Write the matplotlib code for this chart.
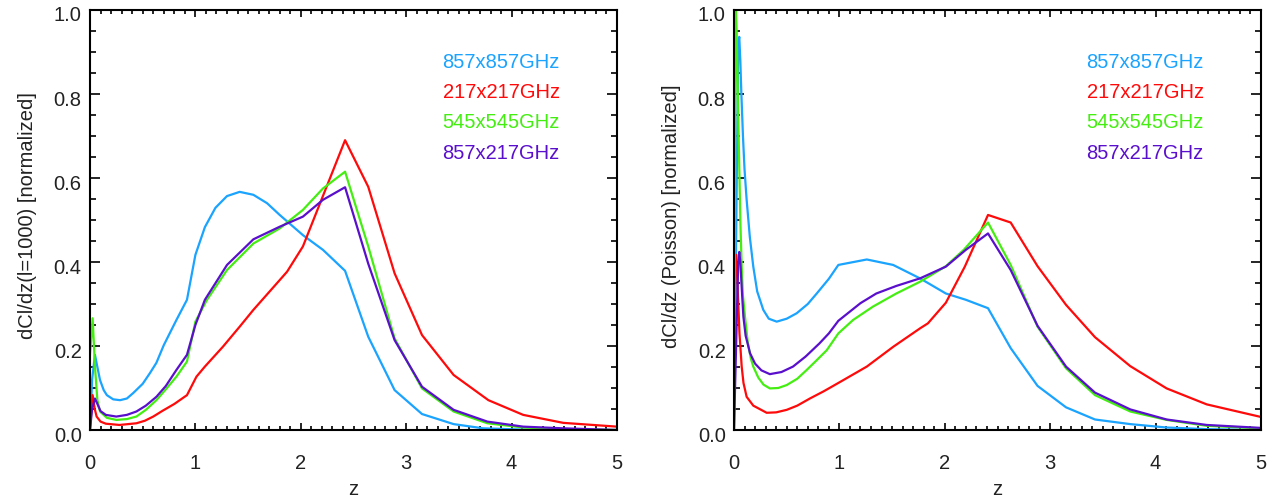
import matplotlib
matplotlib.use('Agg')
import matplotlib.pyplot as plt
from matplotlib.ticker import MultipleLocator
from matplotlib.transforms import ScaledTranslation

plt.rcParams['font.family'] = ['Liberation Sans', 'DejaVu Sans']

# ---- data ----
labels = ['857x857GHz', '217x217GHz', '545x545GHz', '857x217GHz']
colors = ['#1aa3ff', '#ff0a0a', '#44ee11', '#5a0fcc']

# left panel: dCl/dz at l=1000
z_l857 = [0.0, 0.02, 0.047, 0.07, 0.095, 0.13, 0.16, 0.22, 0.285, 0.35, 0.41, 0.5, 0.57, 0.63,
          0.70, 0.82, 0.92, 1.0, 1.09, 1.19, 1.30, 1.42, 1.55, 1.68, 1.80, 2.02, 2.21, 2.42,
          2.64, 2.89, 3.15, 3.45, 3.73, 4.11, 4.49, 5.0]
v_l857 = [0.0, 0.12, 0.179, 0.15, 0.119, 0.095, 0.083, 0.073, 0.071, 0.075, 0.088, 0.11, 0.136,
          0.16, 0.202, 0.262, 0.310, 0.417, 0.483, 0.529, 0.557, 0.567, 0.560, 0.540, 0.512,
          0.464, 0.429, 0.379, 0.222, 0.095, 0.038, 0.014, 0.004, 0.001, 0.0, 0.0]

z_l217 = [0.0, 0.025, 0.045, 0.063, 0.1, 0.15, 0.28, 0.44, 0.52, 0.60, 0.69, 0.80, 0.92, 1.01,
          1.09, 1.26, 1.42, 1.55, 1.80, 1.87, 2.02, 2.42, 2.64, 2.89, 3.15, 3.45, 3.78, 4.11,
          4.49, 5.0]
v_l217 = [0.005, 0.083, 0.05, 0.032, 0.02, 0.015, 0.012, 0.016, 0.022, 0.032, 0.046, 0.062,
          0.083, 0.127, 0.151, 0.198, 0.246, 0.286, 0.357, 0.377, 0.437, 0.690, 0.579, 0.373,
          0.226, 0.131, 0.071, 0.036, 0.017, 0.008]

z_l545 = [0.0, 0.025, 0.047, 0.07, 0.095, 0.16, 0.25, 0.35, 0.44, 0.53, 0.63, 0.72, 0.82, 0.92,
          1.0, 1.11, 1.30, 1.55, 1.80, 2.02, 2.21, 2.42, 2.64, 2.89, 3.15, 3.45, 3.77, 4.11,
          4.49, 5.0]
v_l545 = [0.18, 0.266, 0.151, 0.071, 0.044, 0.029, 0.024, 0.026, 0.032, 0.048, 0.071, 0.097,
          0.127, 0.163, 0.258, 0.310, 0.381, 0.444, 0.480, 0.524, 0.575, 0.615, 0.437, 0.218,
          0.099, 0.044, 0.016, 0.006, 0.002, 0.0]

z_lx = [0.0, 0.02, 0.047, 0.07, 0.1, 0.15, 0.25, 0.35, 0.44, 0.53, 0.63, 0.72, 0.82, 0.92,
        1.0, 1.09, 1.30, 1.55, 1.80, 2.02, 2.21, 2.42, 2.64, 2.89, 3.15, 3.45, 3.77, 4.11,
        4.49, 5.0]
v_lx = [0.0, 0.05, 0.075, 0.062, 0.045, 0.036, 0.032, 0.036, 0.044, 0.058, 0.079, 0.105,
        0.143, 0.179, 0.250, 0.310, 0.393, 0.454, 0.484, 0.508, 0.548, 0.578, 0.396, 0.214,
        0.103, 0.048, 0.020, 0.008, 0.004, 0.0]

# right panel: dCl/dz Poisson
z_r857 = [0.0, 0.02, 0.04, 0.05, 0.06, 0.07, 0.085, 0.10, 0.12, 0.15, 0.183, 0.22, 0.278,
          0.33, 0.405, 0.5, 0.595, 0.7, 0.785, 0.9, 0.99, 1.26, 1.51, 1.765, 2.01, 2.2, 2.41,
          2.625, 2.88, 3.15, 3.425, 3.76, 4.1, 4.49, 5.0]
v_r857 = [0.0, 0.45, 0.92, 0.936, 0.88, 0.80, 0.70, 0.62, 0.548, 0.46, 0.389, 0.33, 0.286,
          0.265, 0.258, 0.265, 0.278, 0.30, 0.325, 0.36, 0.393, 0.406, 0.393, 0.361, 0.325,
          0.310, 0.290, 0.195, 0.105, 0.054, 0.025, 0.014, 0.006, 0.002, 0.0]

z_r217 = [0.0, 0.01, 0.02, 0.033, 0.052, 0.073, 0.09, 0.12, 0.183, 0.31, 0.4, 0.5, 0.6, 0.72,
          0.85, 0.99, 1.26, 1.51, 1.765, 1.84, 2.01, 2.19, 2.41, 2.625, 2.88, 3.15, 3.425,
          3.76, 4.105, 4.485, 5.0]
v_r217 = [0.095, 0.417, 0.417, 0.35, 0.23, 0.151, 0.112, 0.079, 0.058, 0.041, 0.042, 0.048,
          0.058, 0.075, 0.092, 0.112, 0.151, 0.198, 0.242, 0.254, 0.303, 0.389, 0.512, 0.494,
          0.390, 0.298, 0.221, 0.152, 0.099, 0.061, 0.031]

z_r545 = [0.0, 0.008, 0.015, 0.025, 0.032, 0.04, 0.05, 0.06, 0.073, 0.085, 0.104, 0.13, 0.16,
          0.183, 0.23, 0.28, 0.34, 0.42, 0.5, 0.6, 0.69, 0.78, 0.88, 0.99, 1.13, 1.32, 1.54,
          1.765, 2.01, 2.18, 2.41, 2.625, 2.88, 3.15, 3.425, 3.76, 4.105, 4.485, 5.0]
v_r545 = [0.0, 0.5, 1.02, 0.95, 0.865, 0.75, 0.627, 0.50, 0.389, 0.32, 0.270, 0.21, 0.17,
          0.151, 0.125, 0.108, 0.099, 0.100, 0.107, 0.122, 0.143, 0.165, 0.19, 0.230, 0.262,
          0.294, 0.325, 0.353, 0.390, 0.429, 0.494, 0.393, 0.246, 0.147, 0.083, 0.044, 0.024,
          0.010, 0.004]

z_rx = [0.0, 0.02, 0.04, 0.05, 0.06, 0.075, 0.089, 0.11, 0.152, 0.2, 0.26, 0.34, 0.45, 0.56,
        0.68, 0.81, 0.9, 0.99, 1.2, 1.35, 1.54, 1.765, 2.01, 2.2, 2.41, 2.625, 2.88, 3.15,
        3.425, 3.76, 4.105, 4.485, 5.0]
v_rx = [0.0, 0.2, 0.40, 0.424, 0.40, 0.33, 0.27, 0.225, 0.183, 0.158, 0.142, 0.133, 0.138,
        0.151, 0.175, 0.206, 0.23, 0.260, 0.302, 0.325, 0.343, 0.361, 0.389, 0.429, 0.468,
        0.381, 0.248, 0.151, 0.089, 0.049, 0.025, 0.012, 0.005]

left_series = [(z_l857, v_l857), (z_l217, v_l217), (z_l545, v_l545), (z_lx, v_lx)]
right_series = [(z_r857, v_r857), (z_r217, v_r217), (z_r545, v_r545), (z_rx, v_rx)]
ylabels = ['dCl/dz(l=1000) [normalized]', 'dCl/dz (Poisson) [normalized]']

fig = plt.figure(figsize=(12.75, 5.01), dpi=100)
ax1 = fig.add_axes([90 / 1275, 71 / 501, 527 / 1275, 420 / 501])
ax2 = fig.add_axes([734 / 1275, 71 / 501, 527 / 1275, 420 / 501])

txt_col = '#222222'
for ax, series, ylab in zip([ax1, ax2], [left_series, right_series], ylabels):
    for (zz, vv), c in zip(series, colors):
        ax.plot(zz, vv, color=c, lw=1.6)
    ax.set_xlim(0, 5)
    ax.set_ylim(0, 1)
    ax.xaxis.set_major_locator(MultipleLocator(1))
    ax.xaxis.set_minor_locator(MultipleLocator(0.1))
    ax.yaxis.set_major_locator(MultipleLocator(0.2))
    ax.yaxis.set_minor_locator(MultipleLocator(0.05))
    ax.yaxis.set_major_formatter(matplotlib.ticker.FormatStrFormatter('%.1f'))
    ax.tick_params(which='both', direction='in', top=True, right=True, width=1.2,
                   colors='black', labelcolor=txt_col, labelsize=14.5)
    ax.tick_params(axis='x', which='major', length=5, pad=17)
    ax.tick_params(axis='x', which='minor', length=3)
    ax.tick_params(axis='y', which='major', length=7, pad=6)
    ax.tick_params(axis='y', which='minor', length=4)
    for sp in ax.spines.values():
        sp.set_linewidth(1.5)
    ax.set_xlabel('z', fontsize=14.5, color=txt_col)
    ax.xaxis.set_label_coords(0.5, -0.12)
    ax.set_ylabel(ylab, fontsize=14.5, color=txt_col)
    ax.yaxis.set_label_coords(-0.100, 0.51)
    # legend as coloured text
    for i, (lab, c) in enumerate(zip(labels, colors)):
        ax.text(0.669, 0.874 - i * 0.0715, lab, color=c, fontsize=14.5,
                transform=ax.transAxes, ha='left', va='center')
    # IDL-like label nudges: ends pulled inward, others slightly lower
    yt = ax.yaxis.get_major_ticks()
    for k, t in enumerate(yt):
        if k == 0:
            dy = 8
        elif k == len(yt) - 1:
            dy = -11
        else:
            dy = -4
        t.label1.set_transform(t.label1.get_transform() +
                               ScaledTranslation(0, dy / 100, fig.dpi_scale_trans))

fig.savefig('out.png', dpi=100)
